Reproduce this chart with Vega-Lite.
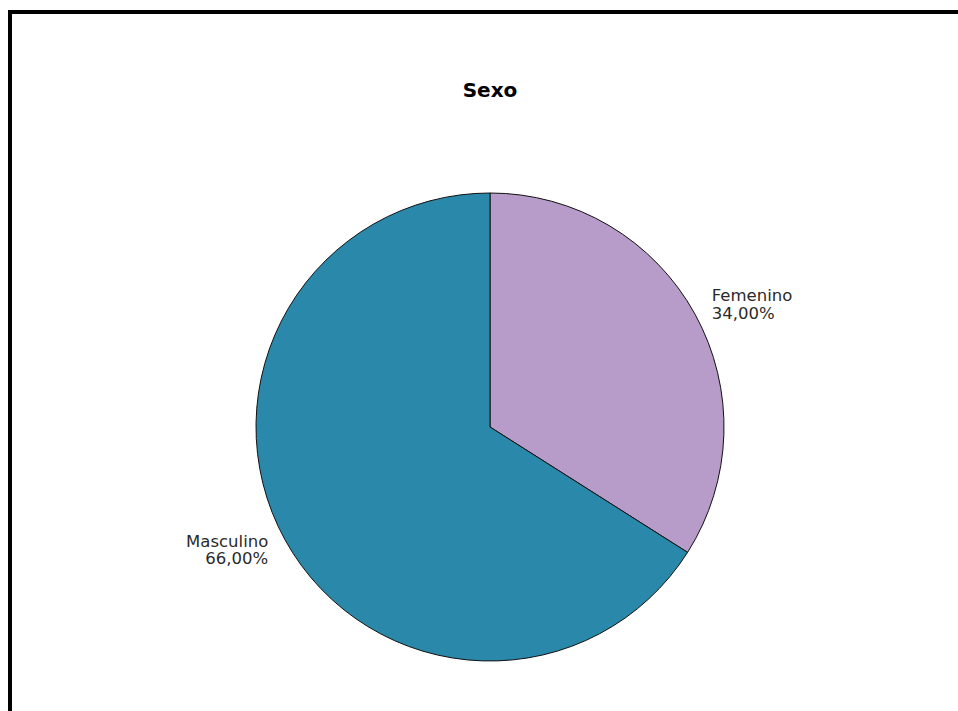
{
  "$schema": "https://vega.github.io/schema/vega-lite/v6.json",
  "width": 960,
  "height": 830,
  "autosize": {"type": "none"},
  "padding": {"left": 10, "top": 12, "right": 0, "bottom": 0},
  "background": "white",
  "view": {"stroke": "#000000", "strokeWidth": 4, "fill": "white"},
  "title": {
    "text": "Sexo",
    "font": "DejaVu Sans",
    "fontSize": 20,
    "fontWeight": "bold",
    "color": "#000000",
    "anchor": "middle",
    "frame": "group",
    "baseline": "alphabetic",
    "offset": -105
  },
  "data": {
    "values": [
      {"Sexo": "Femenino", "Porcentaje": 34, "Etiqueta": "Femenino\n34,00%"},
      {"Sexo": "Masculino", "Porcentaje": 66, "Etiqueta": "Masculino\n66,00%"}
    ]
  },
  "encoding": {
    "theta": {"field": "Porcentaje", "type": "quantitative", "stack": true, "scale": {"domain": [0, 100]}},
    "order": {"field": "Sexo", "type": "ordinal", "sort": "ascending"}
  },
  "layer": [
    {
      "mark": {"type": "arc", "radius": 234, "stroke": "#111111", "strokeWidth": 1},
      "encoding": {
        "color": {
          "field": "Sexo",
          "type": "nominal",
          "scale": {"domain": ["Femenino", "Masculino"], "range": ["#B79CC9", "#2A89AB"]},
          "legend": null
        }
      }
    },
    {
      "mark": {"type": "text", "radius": 253, "align": "left", "baseline": "middle", "dy": -9, "font": "DejaVu Sans", "fontSize": 16.5, "lineHeight": 17.5, "lineBreak": "\n", "color": "#2a2a2a"},
      "encoding": {
        "text": {"condition": {"test": "datum.Sexo == 'Femenino'", "field": "Etiqueta"}, "value": ""}
      }
    },
    {
      "mark": {"type": "text", "radius": 253, "align": "right", "baseline": "middle", "dy": -7, "font": "DejaVu Sans", "fontSize": 16.5, "lineHeight": 17.5, "lineBreak": "\n", "color": "#2a2a2a"},
      "encoding": {
        "text": {"condition": {"test": "datum.Sexo == 'Masculino'", "field": "Etiqueta"}, "value": ""}
      }
    }
  ]
}
